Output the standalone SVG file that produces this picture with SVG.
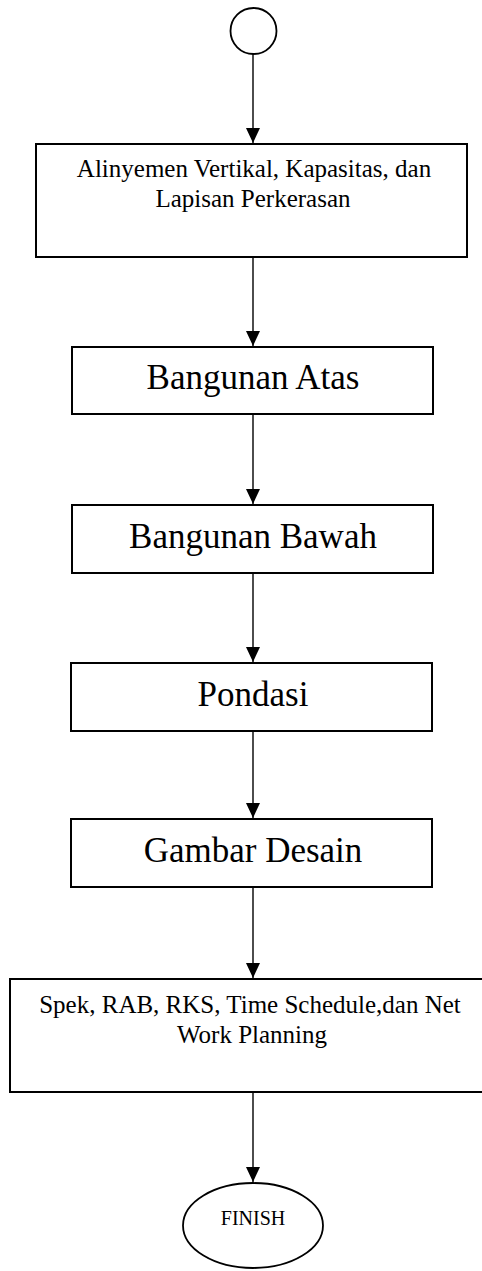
<svg xmlns="http://www.w3.org/2000/svg" width="482" height="1271" viewBox="0 0 482 1271">
<style>
.box{fill:#fff;stroke:#000;stroke-width:2}
.term{fill:#fff;stroke:#000;stroke-width:1.8}
.lbl{font-family:"Liberation Serif","Times New Roman",serif;fill:#000;text-anchor:middle}
.big{font-size:35px}
.sm{font-size:25px}
.fin{font-size:20px}
.conn{stroke:#000;stroke-width:1.4;fill:none;marker-end:url(#arr)}
</style>
<defs>
<marker id="arr" markerUnits="userSpaceOnUse" markerWidth="15" markerHeight="14" viewBox="0 0 15 14" refX="15" refY="7" orient="auto">
<path d="M0,0 L15,7 L0,14 Z" fill="#000"/>
</marker>
</defs>
<rect width="482" height="1271" fill="#fff"/>
<g id="connectors">
<line class="conn" x1="253" y1="53" x2="253" y2="143"/>
<line class="conn" x1="253" y1="258" x2="253" y2="346"/>
<line class="conn" x1="253" y1="415" x2="253" y2="504"/>
<line class="conn" x1="253" y1="574" x2="253" y2="662"/>
<line class="conn" x1="253" y1="732" x2="253" y2="818"/>
<line class="conn" x1="253" y1="888" x2="253" y2="978"/>
<line class="conn" x1="253" y1="1093" x2="253" y2="1182"/>
</g>
<g id="start">
<circle class="term" cx="253.5" cy="31" r="23"/>
</g>
<g id="n1">
<rect class="box" x="36" y="144" width="431" height="113"/>
<text class="lbl sm" x="254" y="177">Alinyemen Vertikal, Kapasitas, dan</text>
<text class="lbl sm" x="253" y="207">Lapisan Perkerasan</text>
</g>
<g id="n2">
<rect class="box" x="72" y="347" width="361" height="67"/>
<text class="lbl big" x="253" y="389">Bangunan Atas</text>
</g>
<g id="n3">
<rect class="box" x="72" y="505" width="361" height="68"/>
<text class="lbl big" x="253" y="548">Bangunan Bawah</text>
</g>
<g id="n4">
<rect class="box" x="71" y="663" width="361" height="68"/>
<text class="lbl big" x="253" y="706">Pondasi</text>
</g>
<g id="n5">
<rect class="box" x="71" y="819" width="361" height="68"/>
<text class="lbl big" x="253" y="862">Gambar Desain</text>
</g>
<g id="n6">
<rect class="box" x="10" y="979" width="486" height="113"/>
<text class="lbl sm" x="250" y="1013">Spek, RAB, RKS, Time Schedule,dan Net</text>
<text class="lbl sm" x="252" y="1043">Work Planning</text>
</g>
<g id="finish">
<ellipse class="term" cx="253" cy="1225.5" rx="70" ry="42.5"/>
<text class="lbl fin" x="253" y="1225">FINISH</text>
</g>
</svg>
